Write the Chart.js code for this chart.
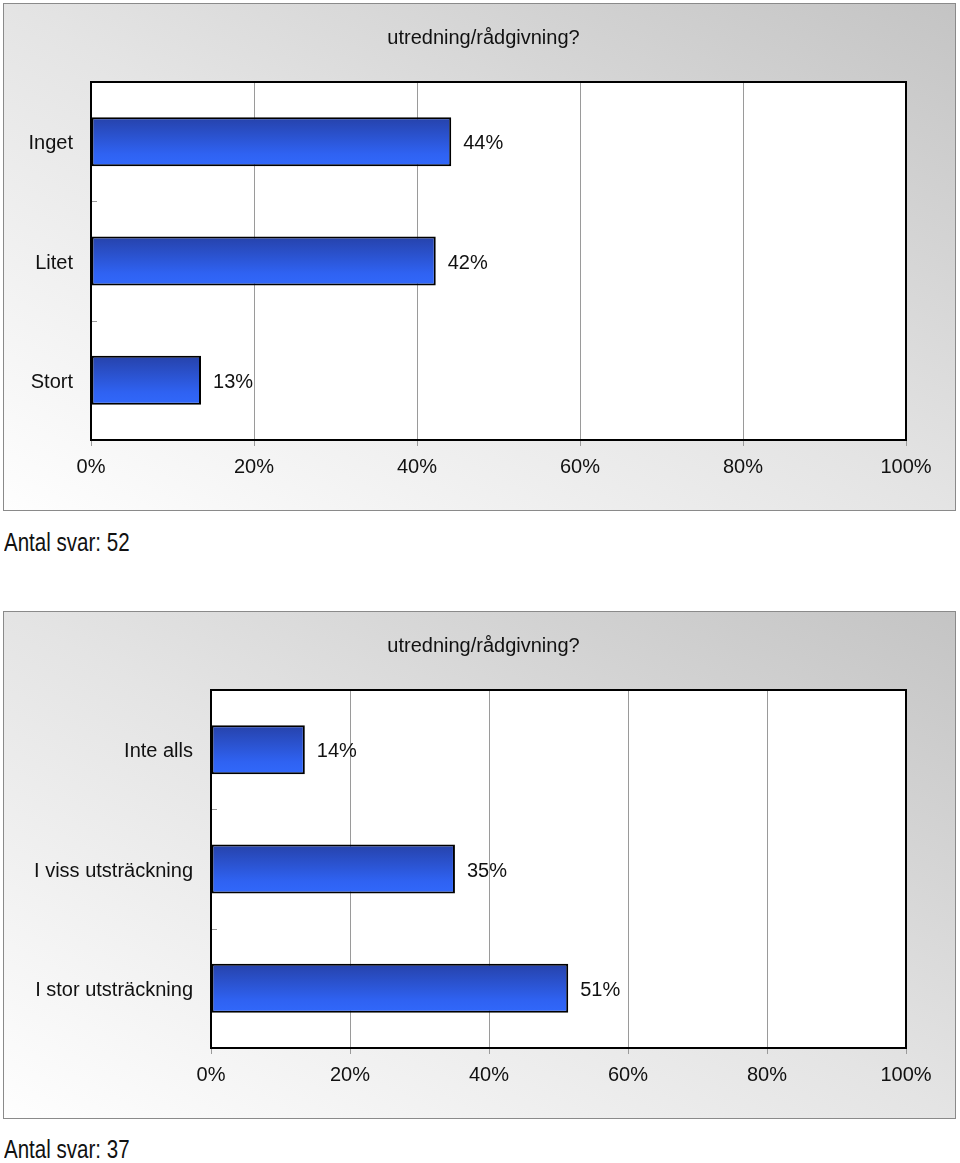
<!DOCTYPE html>
<html><head><meta charset="utf-8">
<script src="https://cdn.jsdelivr.net/npm/chart.js@4.4.0/dist/chart.umd.min.js"></script>
<style>
html,body{margin:0;padding:0;background:#fff;width:960px;height:1163px;overflow:hidden;}
.box{position:absolute;left:3px;width:953px;height:508px;box-sizing:border-box;border:1px solid #8a8a8a;background:linear-gradient(to top right,#fefefe 0%,#e4e4e4 50%,#c4c4c4 100%);}
.box canvas{display:block;}
.note{position:absolute;left:4px;font-family:"Liberation Sans",Arial,sans-serif;font-size:26px;color:#111;line-height:30px;white-space:nowrap;transform:scaleX(0.79);transform-origin:0 0;}
</style></head><body>
<div class="box" style="top:3px"><canvas id="c1" width="951" height="506" style="width:951px;height:506px"></canvas></div>
<div class="note" style="top:527px">Antal svar: 52</div>
<div class="box" style="top:611px"><canvas id="c2" width="951" height="506" style="width:951px;height:506px"></canvas></div>
<div class="note" style="top:1134px">Antal svar: 37</div>
<script>
const titleText = 'utredning/rådgivning?';
const categories1 = ['Inget', 'Litet', 'Stort'];
const values1 = [44.2, 42.3, 13.5];
const valueLabels1 = ['44%', '42%', '13%'];
const categories2 = ['Inte alls', 'I viss utsträckning', 'I stor utsträckning'];
const values2 = [13.5, 35.1, 51.4];
const valueLabels2 = ['14%', '35%', '51%'];
const xTicks = [0, 20, 40, 60, 80, 100];

const FONT = "'Liberation Sans', Arial, sans-serif";
const BAR_PCT = 0.41;

function makePlugin(valueLabels){
  return {
    id: 'frameAndLabels',
    beforeDraw(chart){
      const {ctx, chartArea:a} = chart;
      ctx.save();
      ctx.fillStyle = '#ffffff';
      ctx.fillRect(a.left, a.top, a.right - a.left, a.bottom - a.top);
      ctx.restore();
    },
    afterDatasetsDraw(chart){
      const {ctx, chartArea:a} = chart;
      const ys = chart.scales.y;
      ctx.save();
      ctx.strokeStyle = '#9a9a9a';
      ctx.lineWidth = 1;
      for (let i = 0; i < ys.ticks.length - 1; i++) {
        const y = Math.round((ys.getPixelForValue(i) + ys.getPixelForValue(i + 1)) / 2) + 0.5;
        ctx.beginPath();
        ctx.moveTo(a.left, y);
        ctx.lineTo(a.left + 6, y);
        ctx.stroke();
      }
      ctx.strokeStyle = '#000';
      ctx.lineWidth = 2;
      ctx.strokeRect(a.left, a.top, a.right - a.left, a.bottom - a.top);
      const meta = chart.getDatasetMeta(0);
      ctx.fillStyle = '#111';
      ctx.font = '20px ' + FONT;
      ctx.textAlign = 'left';
      ctx.textBaseline = 'middle';
      meta.data.forEach((el, i) => {
        ctx.fillText(valueLabels[i], el.x + 12, el.y + 2);
      });
      ctx.textAlign = 'center';
      ctx.fillText(titleText, chart.width / 2 + 4, 34);
      ctx.restore();
    }
  };
}

function makeChart(id, cats, vals, valueLabels, axisWidth){
  return new Chart(document.getElementById(id), {
    type: 'bar',
    data: {
      labels: cats,
      datasets: [{
        data: vals,
        borderColor: '#000',
        borderWidth: 2,
        borderSkipped: false,
        barPercentage: BAR_PCT,
        categoryPercentage: 1,
        backgroundColor(ctx){
          const chart = ctx.chart;
          const ys = chart.scales && chart.scales.y;
          if (!ys || !chart.chartArea || ctx.type !== 'data') return '#2d58e0';
          const yc = ys.getPixelForValue(ctx.dataIndex);
          const half = (chart.chartArea.bottom - chart.chartArea.top) / cats.length * BAR_PCT / 2;
          const g = chart.ctx.createLinearGradient(0, yc - half, 0, yc + half);
          g.addColorStop(0, '#2642aa');
          g.addColorStop(0.75, '#2f62f2');
          g.addColorStop(1, '#3168fb');
          return g;
        }
      }]
    },
    options: {
      indexAxis: 'y',
      responsive: false,
      animation: false,
      layout: { padding: { left: 0, right: 49, top: 78, bottom: 0 } },
      plugins: {
        legend: { display: false },
        tooltip: { enabled: false },
        title: { display: false }
      },
      scales: {
        x: {
          min: 0, max: 100,
          afterBuildTicks(scale){ scale.ticks = xTicks.map(v => ({ value: v })); },
          afterFit(scale){ scale.height = 70; },
          grid: { color: '#9a9a9a', lineWidth: 1, drawTicks: true, tickLength: 6, tickColor: '#9a9a9a' },
          border: { display: false },
          ticks: {
            color: '#111',
            font: { family: FONT, size: 20 },
            padding: 9,
            maxRotation: 0,
            callback: v => v + '%'
          }
        },
        y: {
          afterFit(scale){ scale.width = axisWidth; },
          grid: { display: false, drawTicks: false },
          border: { display: false },
          ticks: {
            color: '#111',
            font: { family: FONT, size: 20 },
            padding: 18,
            labelOffset: 2
          }
        }
      }
    },
    plugins: [makePlugin(valueLabels)]
  });
}

makeChart('c1', categories1, values1, valueLabels1, 87);
makeChart('c2', categories2, values2, valueLabels2, 207);
</script>
</body></html>
